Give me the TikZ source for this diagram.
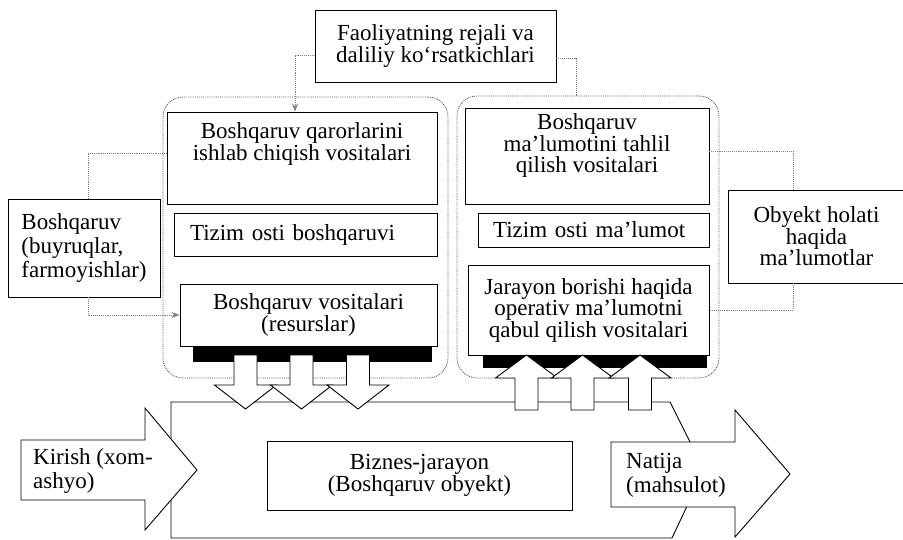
\documentclass[tikz,border=0pt]{standalone}
\usepackage{fontspec}
\setmainfont{Liberation Serif}
\usepackage{tikz}
\usetikzlibrary{arrows.meta, positioning, calc}
\tikzset{
  % Box styles
  plainbox/.style={rectangle, draw=black, fill=white, line width=0.9pt, inner sep=4pt, align=center, font=\fontsize{23}{21.5}\selectfont},
  listbox/.style={plainbox, align=left, font=\fontsize{23}{24}\selectfont},
  modulebox/.style={rectangle, rounded corners=20pt, draw=black!65, densely dotted, line width=0.9pt},
  arrowtext/.style={align=left, inner sep=0pt, anchor=west, font=\fontsize{23}{24}\selectfont},
  % Shape styles
  blackbar/.style={fill=black},
  blockarrow/.style={draw=black, fill=white, line width=0.9pt, line join=miter},
  % Arrow styles
  link/.style={draw=black!50, densely dotted, line width=0.9pt},
  linkarrow/.style={link, -{Stealth[length=8pt, width=6pt]}}
}

\begin{document}
\begin{tikzpicture}[x=1pt, y=-1pt]
  \useasboundingbox (0,0) rectangle (903,540);

  % Control and information modules
  \node[modulebox, minimum width=285pt, minimum height=281pt] (lmod) at (305.5,237.5) {};
  \node[modulebox, minimum width=262pt, minimum height=282pt] (rmod) at (588,237) {};

  % Plan on top
  \node[plainbox, minimum width=241pt, minimum height=72pt] (plan) at (435.5,46) {
    Faoliyatning rejali va\\
    daliliy ko‘rsatkichlari
  };

  % Left module
  \node[plainbox, minimum width=270pt, minimum height=92pt] (decide) at (302,158) {
    Boshqaruv qarorlarini\\
    ishlab chiqish vositalari\rule[-33pt]{0pt}{0pt}
  };
  \node[plainbox, align=left, text width=231pt, inner xsep=16pt, minimum height=43pt] (subctl) at (305.5,234.5) {Tizim osti boshqaruvi};
  \node[plainbox, minimum width=257pt, minimum height=62pt] (res) at (308.5,315) {
    Boshqaruv vositalari\\
    (resurslar)
  };
  \fill[blackbar] (193,346) rectangle (432,362);

  % Right module
  \node[plainbox, minimum width=244pt, minimum height=96pt] (analyse) at (587,156) {
    Boshqaruv\\
    ma’lumotini tahlil\\
    qilish vositalari\rule[-25pt]{0pt}{0pt}
  };
  \node[plainbox, align=left, text width=201pt, inner xsep=15pt, minimum height=34pt] (subinfo) at (593.5,230) {Tizim osti ma’lumot};
  \node[plainbox, minimum width=241pt, minimum height=90pt] (oper) at (588.5,310) {
    Jarayon borishi haqida\\
    operativ ma’lumotni\\
    qabul qilish vositalari
  };
  \fill[blackbar] (483,355) rectangle (707,368);

  % Side boxes
  \node[listbox, minimum width=152pt, minimum height=98pt] (cmd) at (84,248) {
    Boshqaruv\\
    (buyruqlar,\\
    farmoyishlar)
  };
  \node[plainbox, minimum width=177pt, minimum height=93pt] (obj) at (816.5,236.5) {
    Obyekt holati\\
    haqida\\
    ma’lumotlar
  };

  % Business process
  \draw[blockarrow] (171,402) -- (670,402) -- (704,470) -- (672,538) -- (171,538) -- cycle;
  \node[plainbox, minimum width=305pt, minimum height=69pt] (proc) at (419.5,475.5) {
    Biznes-jarayon\\
    (Boshqaruv obyekt)
  };

  % Resource and feedback arrows
  \foreach \cx in {245.5,301.5,358}
    \draw[blockarrow] (\cx-11.5,355) -- (\cx+11.5,355) -- (\cx+11.5,385) -- (\cx+31,385)
      -- (\cx,409) -- (\cx-31,385) -- (\cx-11.5,385) -- cycle;
  \foreach \cx in {526.5,582.5,640}
    \draw[blockarrow] (\cx-11.5,410) -- (\cx-11.5,378) -- (\cx-31,378) -- (\cx,355)
      -- (\cx+31,378) -- (\cx+11.5,378) -- (\cx+11.5,410) -- cycle;

  % Input and output
  \draw[blockarrow] (21,440) -- (145,440) -- (145,408) -- (197,470) -- (145,530) -- (145,500) -- (21,500) -- cycle;
  \node[arrowtext] (input) at (33,471) {Kirish (xom-\\ashyo)};
  \draw[blockarrow] (611,442) -- (735,442) -- (735,410) -- (790,474) -- (735,537) -- (735,507) -- (611,507) -- cycle;
  \node[arrowtext] (output) at (626,475) {Natija\\(mahsulot)};

  % Links
  \draw[linkarrow] ([yshift=-9pt]plan.west) -| ([xshift=-7pt]decide.north);
  \draw[link] ([yshift=-12pt]plan.east) -| ([xshift=-12pt]rmod.north);
  \draw[link] ([xshift=4pt]cmd.north) |- ([yshift=5pt]decide.west);
  \draw[linkarrow] ([xshift=4pt]cmd.south) |- (res.west);
  \draw[link] ([xshift=-23.5pt]obj.north) |- ([yshift=5pt]analyse.east);
  \draw[link] ([xshift=-23.5pt]obj.south) |- (oper.east);
\end{tikzpicture}
\end{document}
